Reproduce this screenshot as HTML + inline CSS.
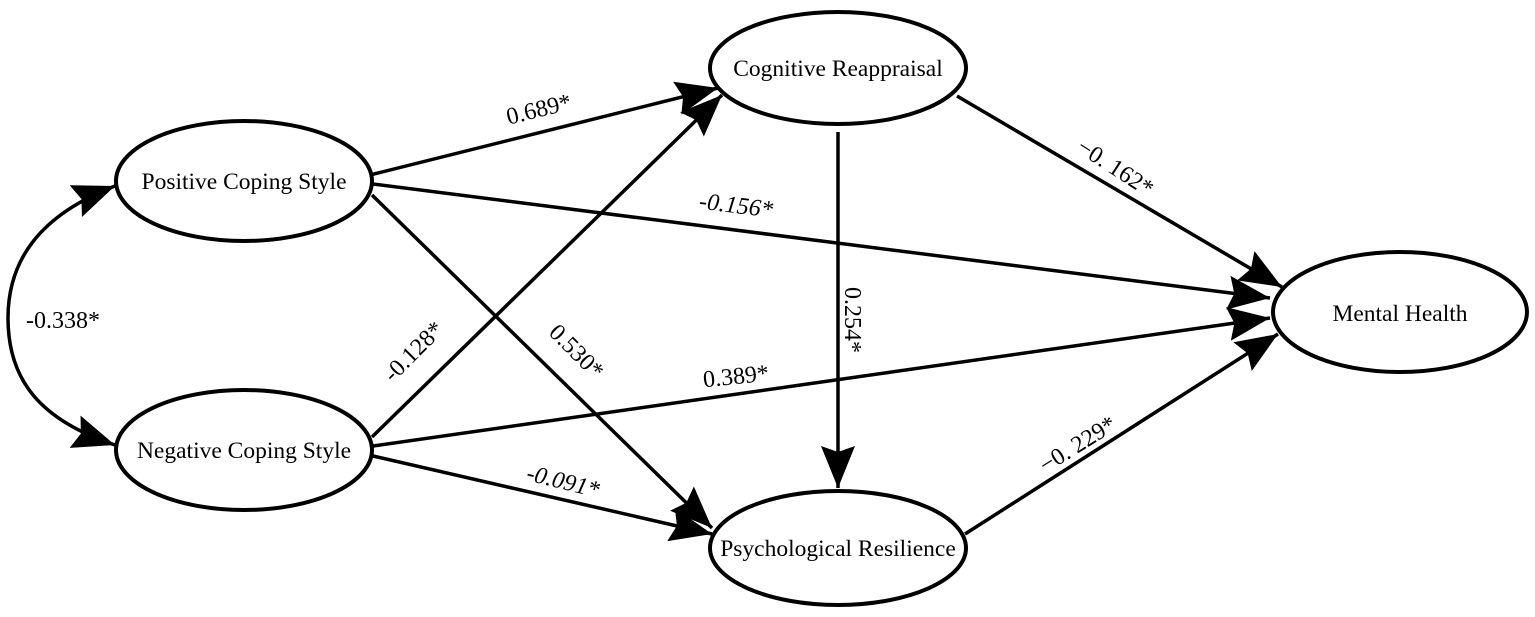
<!DOCTYPE html>
<html><head><meta charset="utf-8"><style>
html,body{margin:0;padding:0;background:#fff;}
svg{display:block;}
text{font-family:"Liberation Serif",serif;fill:#000;}
</style></head><body>
<svg width="1535" height="617" viewBox="0 0 1535 617" xmlns="http://www.w3.org/2000/svg">
<defs>
<marker id="a" markerUnits="userSpaceOnUse" markerWidth="44" markerHeight="34" refX="42" refY="17" orient="auto-start-reverse">
<path d="M0,0 L42,17 L0,34 L6,17 Z" fill="#000"/>
</marker>
</defs>
<g fill="none" stroke="#000" stroke-width="4">
<ellipse cx="244" cy="181" rx="128" ry="60"/>
<ellipse cx="244" cy="450" rx="128" ry="60"/>
<ellipse cx="838" cy="68" rx="128" ry="56"/>
<ellipse cx="838" cy="548" rx="128" ry="57"/>
<ellipse cx="1400" cy="312" rx="127" ry="60"/>
</g>
<g fill="none" stroke="#000" stroke-width="3.5" marker-end="url(#a)">
<path d="M370,175 L718,88"/>
<path d="M373,184 L1270,298"/>
<path d="M372,195 L712,528"/>
<path d="M372,437 L722,95"/>
<path d="M373,446 L1270,318"/>
<path d="M373,456 L712,534"/>
<path d="M838,132 L838,488"/>
<path d="M957,96 L1282,287"/>
<path d="M965,534 L1278,334"/>
<path d="M115,186 C40,215 8,260 8,318 C8,380 40,420 115,445" marker-start="url(#a)"/>
</g>
<g font-size="23.5" text-anchor="middle" dominant-baseline="central">
<text x="244" y="182">Positive Coping Style</text>
<text x="244" y="451">Negative Coping Style</text>
<text x="838" y="69">Cognitive Reappraisal</text>
<text x="838" y="549">Psychological Resilience</text>
<text x="1400" y="314">Mental Health</text>
</g>
<g font-size="24" text-anchor="middle" dominant-baseline="central">
<text x="63" y="321">-0.338*</text>
<text transform="translate(539,110) rotate(-14)">0.689*</text>
<text transform="translate(736,206) rotate(7)" font-style="italic">-0.156*</text>
<text transform="translate(1115,168) rotate(33)">−0. 162*</text>
<text transform="translate(852,320) rotate(90)">0.254*</text>
<text transform="translate(576,352) rotate(45)">0.530*</text>
<text transform="translate(414,352) rotate(-45)">-0.128*</text>
<text transform="translate(736,377) rotate(-6)">0.389*</text>
<text transform="translate(563,482) rotate(14)" font-style="italic">-0.091*</text>
<text transform="translate(1078,445) rotate(-32)">−0. 229*</text>
</g>
</svg>
</body></html>
